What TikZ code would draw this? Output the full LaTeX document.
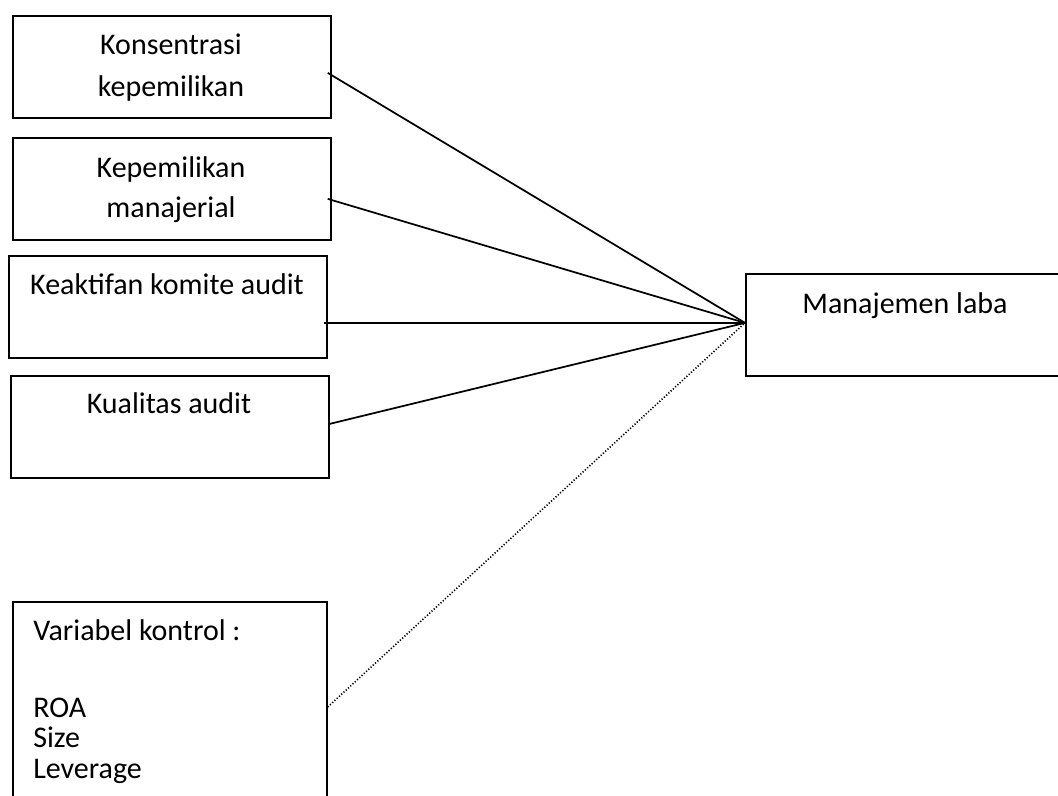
\documentclass[tikz,border=0pt]{standalone}
\usepackage{fontspec}
\setmainfont{Carlito}

\begin{document}
\begin{tikzpicture}[x=0.75pt, y=-0.75pt]
	\tikzstyle{box} = [draw, line width=1.3pt, rectangle, inner sep=0pt, anchor=north west, minimum width=238.5pt, minimum height=76.5pt]
	\tikzstyle{txt} = [inner sep=0pt, anchor=base, font=\fontsize{22.5}{27}\selectfont]
	\tikzstyle{lst} = [txt, anchor=base west]
	\tikzstyle{link} = [line width=1.3pt]
	\useasboundingbox (0,0) rectangle (1058,796);
	\clip (0,0) rectangle (1058,796);
	\node[box] (konsentrasi) at (12,15) {};
	\node[box] (manajerial) at (12,137) {};
	\node[box] (komite) at (8,255) {};
	\node[box] (kualitas) at (10,375) {};
	\node[box, minimum width=235.5pt, minimum height=165pt] (kontrol) at (12,601) {};
	\node[box, minimum width=251pt] (laba) at (745,273) {};
	\node[txt] (t1a) at (171,55) {Konsentrasi};
	\node[txt] (t1b) at (171,96) {kepemilikan};
	\node[txt] (t2a) at (171,177) {Kepemilikan};
	\node[txt] (t2b) at (171,217) {manajerial};
	\node[txt] (t3) at (167,294) {Keaktifan komite audit};
	\node[txt] (t4) at (169,413) {Kualitas audit};
	\node[txt] (t6) at (905,313) {Manajemen laba};
	\node[lst] (t5a) at (33,640) {Variabel kontrol :};
	\node[lst] (t5b) at (33,717) {ROA};
	\node[lst] (t5c) at (33,747) {Size};
	\node[lst] (t5d) at (33,778) {Leverage};
	\coordinate (hub) at ([yshift=1.5pt]laba.west);
	\draw [link] ([xshift=-3pt, yshift=-4.5pt]konsentrasi.east)--(hub);
	\draw [link] ([xshift=-3pt, yshift=-7.5pt]manajerial.east)--(hub);
	\draw [link] ([xshift=-3pt, yshift=-12pt]komite.east)--(hub);
	\draw [link] ([yshift=2.25pt]kualitas.east)--(hub);
	\draw [link, line width=1.2pt, dash pattern=on 0.9pt off 1.4pt] ([yshift=-79.5pt]kontrol.north east)--(hub);
\end{tikzpicture}
\end{document}
